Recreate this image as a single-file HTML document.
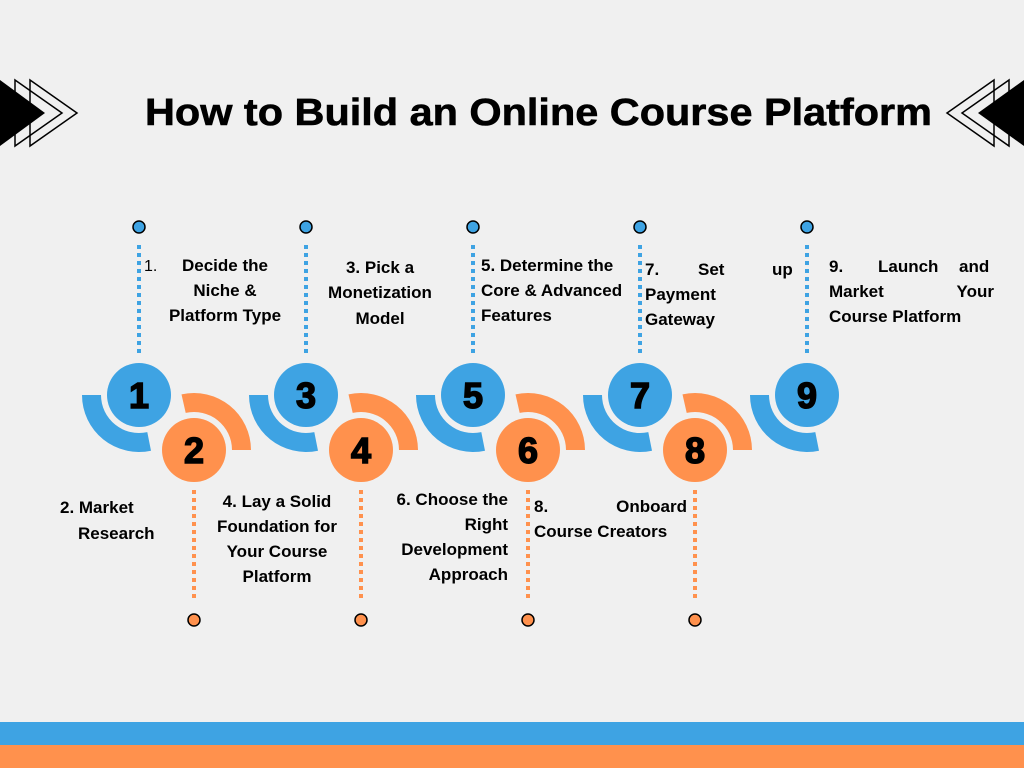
<!DOCTYPE html>
<html><head><meta charset="utf-8"><style>
html,body{margin:0;padding:0;background:#f0f0f0;}
svg{display:block;}
text{font-family:"Liberation Sans",sans-serif;font-weight:bold;fill:#000;}
</style></head><body>
<svg width="1024" height="768" viewBox="0 0 1024 768" xmlns="http://www.w3.org/2000/svg">
<rect width="1024" height="768" fill="#f0f0f0"/>
<g fill="none" stroke="#000" stroke-width="1.5">
<polygon points="15,80 62,113 15,146"/>
<polygon points="30,80 77,113 30,146"/>
<polygon points="1009,80 962,113 1009,146"/>
<polygon points="994,80 947,113 994,146"/>
</g>
<polygon points="0,80 45,113 0,146" fill="#000"/>
<polygon points="1024,80 978,113 1024,146" fill="#000"/>
<text x="145" y="125" font-size="38" textLength="787" lengthAdjust="spacingAndGlyphs" stroke="#000" stroke-width="0.6">How to Build an Online Course Platform</text>

<defs>
<g id="blue">
<path d="M -57 0 A 57 57 0 0 0 12 55.7 L 8.3 37.1 A 38 38 0 0 1 -38 0 Z" fill="#3ea3e3"/>
<line x1="0" y1="-150" x2="0" y2="-38" stroke="#3ea3e3" stroke-width="4" stroke-dasharray="4,4"/>
<circle cx="0" cy="-168" r="6" fill="#3ea3e3" stroke="#000" stroke-width="1.5"/>
<circle r="32" fill="#3ea3e3"/>
</g>
<g id="orange">
<path d="M 57 0 A 57 57 0 0 0 -12.5 -55.6 L -8.3 -37.1 A 38 38 0 0 1 38 0 Z" fill="#ff914d"/>
<line x1="0" y1="40" x2="0" y2="152" stroke="#ff914d" stroke-width="4" stroke-dasharray="4,4"/>
<circle cx="0" cy="170" r="6" fill="#ff914d" stroke="#000" stroke-width="1.5"/>
<circle r="32" fill="#ff914d"/>
</g>
</defs>
<use href="#blue" x="139" y="395"/>
<use href="#blue" x="306" y="395"/>
<use href="#blue" x="473" y="395"/>
<use href="#blue" x="640" y="395"/>
<use href="#blue" x="807" y="395"/>
<use href="#orange" x="194" y="450"/>
<use href="#orange" x="361" y="450"/>
<use href="#orange" x="528" y="450"/>
<use href="#orange" x="695" y="450"/>
<g font-size="36" text-anchor="middle" stroke="#000" stroke-width="1.5">
<text x="139" y="408">1</text><text x="306" y="408">3</text><text x="473" y="408">5</text><text x="640" y="408">7</text><text x="807" y="408">9</text>
<text x="194" y="463">2</text><text x="361" y="463">4</text><text x="528" y="463">6</text><text x="695" y="463">8</text>
</g>
<g font-size="17">
<text x="144" y="271" style="font-weight:normal" font-size="16">1.</text>
<text x="225" y="271" text-anchor="middle">Decide the</text>
<text x="225" y="296" text-anchor="middle">Niche &amp;</text>
<text x="225" y="321" text-anchor="middle">Platform Type</text>
<text x="380" y="273" text-anchor="middle">3. Pick a</text>
<text x="380" y="298" text-anchor="middle">Monetization</text>
<text x="380" y="324" text-anchor="middle">Model</text>
<text x="481" y="271">5. Determine the</text>
<text x="481" y="296">Core &amp; Advanced</text>
<text x="481" y="321">Features</text>
<text x="645" y="275">7.</text><text x="698" y="275">Set</text><text x="772" y="275">up</text>
<text x="645" y="300">Payment</text>
<text x="645" y="325">Gateway</text>
<text x="829" y="272">9.</text><text x="878" y="272">Launch</text><text x="959" y="272">and</text>
<text x="829" y="297">Market</text><text x="994" y="297" text-anchor="end">Your</text>
<text x="829" y="322">Course Platform</text>
<text x="60" y="513">2. Market</text>
<text x="78" y="539">Research</text>
<text x="277" y="507" text-anchor="middle">4. Lay a  Solid</text>
<text x="277" y="532" text-anchor="middle">Foundation for</text>
<text x="277" y="557" text-anchor="middle">Your Course</text>
<text x="277" y="582" text-anchor="middle">Platform</text>
<text x="508" y="505" text-anchor="end">6. Choose the</text>
<text x="508" y="530" text-anchor="end">Right</text>
<text x="508" y="555" text-anchor="end">Development</text>
<text x="508" y="580" text-anchor="end">Approach</text>
<text x="534" y="512">8.</text><text x="687" y="512" text-anchor="end">Onboard</text>
<text x="534" y="537">Course Creators</text>
</g>
<rect x="0" y="722" width="1024" height="23" fill="#3ea3e3"/>
<rect x="0" y="745" width="1024" height="23" fill="#ff914d"/>
</svg>
</body></html>
